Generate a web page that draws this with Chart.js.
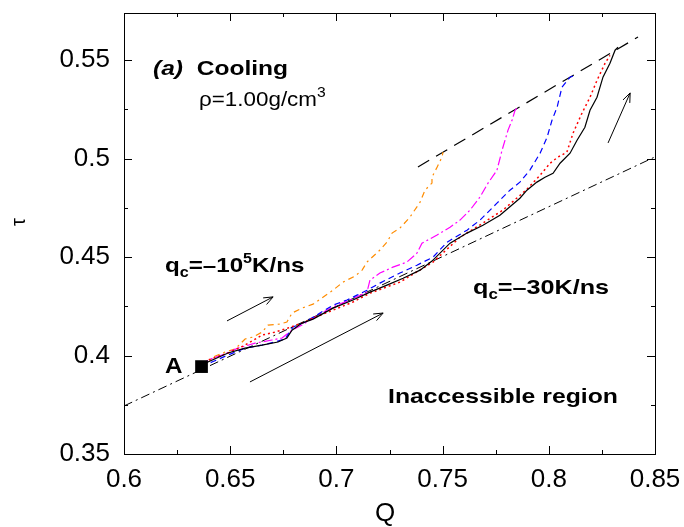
<!DOCTYPE html>
<html>
<head>
<meta charset="utf-8">
<script src="https://cdn.jsdelivr.net/npm/chart.js@4.4.1/dist/chart.umd.min.js"></script>
<style>
  html, body { margin: 0; padding: 0; background: #fff; }
</style>
</head>
<body>
<canvas id="coolingChart" width="684" height="527"></canvas>
<script>
// axis ticks
const xTicks = [0.6, 0.65, 0.7, 0.75, 0.8, 0.85];
const xTickLabels = ["0.6", "0.65", "0.7", "0.75", "0.8", "0.85"];
const xMinorTicks = [0.625, 0.675, 0.725, 0.775, 0.825];
const yTicks = [0.35, 0.4, 0.45, 0.5, 0.55];
const yTickLabels = ["0.35", "0.4", "0.45", "0.5", "0.55"];
const yMinorTicks = [0.375, 0.425, 0.475, 0.525];

// cooling curves, slowest (-30 K/ns) to fastest (-10^5 K/ns)
const blackQ = [0.6365, 0.6395, 0.6490, 0.6570, 0.6650, 0.6725, 0.6767, 0.6791, 0.6838, 0.6890, 0.6984, 0.7078, 0.7158, 0.7238, 0.7314, 0.7394, 0.7450, 0.7535, 0.7615, 0.7690, 0.7770, 0.7864, 0.7897, 0.7944, 0.7982, 0.8020, 0.8053, 0.8100, 0.8133, 0.8170, 0.8194, 0.8227, 0.8255, 0.8288, 0.8312, 0.8326];
const blackTau = [0.3944, 0.3967, 0.4013, 0.4038, 0.4053, 0.4069, 0.4089, 0.4129, 0.4165, 0.4185, 0.4241, 0.4282, 0.4322, 0.4358, 0.4393, 0.4434, 0.4480, 0.4571, 0.4622, 0.4662, 0.4713, 0.4799, 0.4840, 0.4881, 0.4906, 0.4926, 0.4977, 0.5028, 0.5094, 0.5160, 0.5246, 0.5312, 0.5414, 0.5485, 0.5551, 0.5566];

const redQ = [0.6365, 0.6395, 0.6490, 0.6570, 0.6650, 0.6711, 0.6772, 0.6838, 0.6890, 0.6984, 0.7078, 0.7158, 0.7299, 0.7455, 0.7582, 0.7690, 0.7784, 0.7855, 0.7897, 0.7959, 0.8006, 0.8043, 0.8085, 0.8114, 0.8156, 0.8194, 0.8227, 0.8265, 0.8288];
const redTau = [0.3944, 0.3977, 0.4013, 0.4053, 0.4104, 0.4119, 0.4140, 0.4165, 0.4190, 0.4231, 0.4272, 0.4317, 0.4373, 0.4475, 0.4601, 0.4673, 0.4739, 0.4805, 0.4845, 0.4916, 0.4977, 0.5008, 0.5033, 0.5129, 0.5231, 0.5312, 0.5398, 0.5485, 0.5525];

const blueQ = [0.6365, 0.6414, 0.6490, 0.6570, 0.6650, 0.6711, 0.6758, 0.6796, 0.6852, 0.6890, 0.6984, 0.7050, 0.7097, 0.7144, 0.7205, 0.7299, 0.7379, 0.7455, 0.7521, 0.7615, 0.7676, 0.7756, 0.7817, 0.7864, 0.7911, 0.7959, 0.7992, 0.8015, 0.8039, 0.8062, 0.8100, 0.8124];
const blueTau = [0.3944, 0.3967, 0.4003, 0.4038, 0.4053, 0.4069, 0.4084, 0.4145, 0.4170, 0.4195, 0.4256, 0.4282, 0.4307, 0.4332, 0.4368, 0.4419, 0.4459, 0.4500, 0.4576, 0.4637, 0.4688, 0.4774, 0.4840, 0.4881, 0.4942, 0.5028, 0.5109, 0.5195, 0.5261, 0.5363, 0.5414, 0.5424];

const magentaQ = [0.6365, 0.6395, 0.6461, 0.6537, 0.6617, 0.6697, 0.6744, 0.6791, 0.6838, 0.6890, 0.6956, 0.7003, 0.7064, 0.7144, 0.7158, 0.7205, 0.7266, 0.7332, 0.7379, 0.7403, 0.7474, 0.7535, 0.7582, 0.7629, 0.7676, 0.7714, 0.7756, 0.7780, 0.7808, 0.7827, 0.7841, 0.7850];
const magentaTau = [0.3944, 0.3977, 0.4003, 0.4038, 0.4063, 0.4079, 0.4089, 0.4129, 0.4155, 0.4190, 0.4231, 0.4256, 0.4282, 0.4322, 0.4383, 0.4419, 0.4449, 0.4475, 0.4520, 0.4571, 0.4612, 0.4652, 0.4688, 0.4739, 0.4805, 0.4876, 0.4942, 0.5043, 0.5145, 0.5195, 0.5246, 0.5256];

const orangeQ = [0.6365, 0.6395, 0.6428, 0.6476, 0.6523, 0.6570, 0.6607, 0.6650, 0.6678, 0.6734, 0.6767, 0.6791, 0.6838, 0.6890, 0.6984, 0.7031, 0.7088, 0.7121, 0.7144, 0.7205, 0.7238, 0.7262, 0.7299, 0.7346, 0.7394, 0.7417, 0.7450, 0.7450, 0.7474, 0.7497, 0.7502];
const orangeTau = [0.3944, 0.3967, 0.3997, 0.4018, 0.4033, 0.4084, 0.4094, 0.4119, 0.4155, 0.4160, 0.4170, 0.4216, 0.4241, 0.4261, 0.4332, 0.4373, 0.4404, 0.4434, 0.4475, 0.4536, 0.4576, 0.4622, 0.4647, 0.4703, 0.4779, 0.4840, 0.4876, 0.4906, 0.4957, 0.5008, 0.5033];

// bounding lines
const lowerQ = [0.6, 0.85];
const lowerTau = [0.3744, 0.5009];
const upperQ = [0.7384, 0.8420];
const upperTau = [0.4958, 0.5618];

// starting state A
const pointAQ = [0.6365];
const pointATau = [0.3944];

// arrows (tail -> head)
const arrowFromQ = [0.6485, 0.6593, 0.8279];
const arrowFromTau = [0.4176, 0.3866, 0.5080];
const arrowToQ = [0.6702, 0.7220, 0.8383];
const arrowToTau = [0.4298, 0.4216, 0.5334];

const FONT = "'Liberation Sans', Arial, Helvetica, sans-serif";

function pts(qs, taus) {
  return qs.map((q, i) => ({ x: q, y: taus[i] }));
}

function lineSet(qs, taus, color, dash, width) {
  return {
    data: pts(qs, taus),
    showLine: true,
    borderColor: color,
    borderWidth: width || 1,
    borderDash: dash,
    pointRadius: 0,
    fill: false,
    tension: 0
  };
}

// draws text pieces one after the other, slightly stretched like the original
function drawRich(ctx, x, y, parts, stretch) {
  ctx.save();
  ctx.translate(x, y);
  ctx.scale(stretch, 1);
  let cx = 0;
  parts.forEach(p => {
    ctx.font = p.font;
    ctx.fillText(p.t, cx, p.dy || 0);
    cx += ctx.measureText(p.t).width;
  });
  ctx.restore();
}

// no label overflow padding: plot box is fixed
function noPad(s) {
  s.paddingLeft = 0; s.paddingRight = 0; s.paddingTop = 0; s.paddingBottom = 0;
}

const decorPlugin = {
  id: "decor",
  afterDraw(chart) {
    const ctx = chart.ctx;
    const xs = chart.scales.x, ys = chart.scales.y;
    const a = chart.chartArea;
    ctx.save();
    ctx.strokeStyle = "#000";
    ctx.fillStyle = "#000";
    ctx.lineWidth = 1;
    ctx.setLineDash([]);

    // frame
    ctx.strokeRect(a.left + 0.5, a.top + 0.5, a.right - a.left, a.bottom - a.top);

    // inward ticks on all sides
    ctx.beginPath();
    const tickX = (v, len) => {
      const px = Math.round(xs.getPixelForValue(v)) + 0.5;
      ctx.moveTo(px, a.bottom); ctx.lineTo(px, a.bottom - len);
      ctx.moveTo(px, a.top); ctx.lineTo(px, a.top + len);
    };
    const tickY = (v, len) => {
      const py = Math.round(ys.getPixelForValue(v)) + 0.5;
      ctx.moveTo(a.left, py); ctx.lineTo(a.left + len, py);
      ctx.moveTo(a.right, py); ctx.lineTo(a.right - len, py);
    };
    xTicks.forEach(v => tickX(v, 8));
    xMinorTicks.forEach(v => tickX(v, 4));
    yTicks.forEach(v => tickY(v, 8));
    yMinorTicks.forEach(v => tickY(v, 4));
    ctx.stroke();

    // arrows
    arrowFromQ.forEach((q, i) => {
      const x0 = xs.getPixelForValue(q), y0 = ys.getPixelForValue(arrowFromTau[i]);
      const x1 = xs.getPixelForValue(arrowToQ[i]), y1 = ys.getPixelForValue(arrowToTau[i]);
      const ang = Math.atan2(y1 - y0, x1 - x0);
      const hl = 10, spread = 0.38;
      ctx.beginPath();
      ctx.moveTo(x0, y0); ctx.lineTo(x1, y1);
      ctx.moveTo(x1 - hl * Math.cos(ang - spread), y1 - hl * Math.sin(ang - spread));
      ctx.lineTo(x1, y1);
      ctx.lineTo(x1 - hl * Math.cos(ang + spread), y1 - hl * Math.sin(ang + spread));
      ctx.stroke();
    });

    // axis titles
    ctx.textBaseline = "alphabetic";
    ctx.textAlign = "center";
    ctx.font = "26px " + FONT;
    ctx.fillText("Q", 385, 521);
    ctx.save();
    ctx.translate(25, 222);
    ctx.rotate(-Math.PI / 2);
    ctx.font = "20px " + FONT;
    ctx.fillText("\u03C4", 0, 0);
    ctx.restore();

    // annotations
    ctx.textAlign = "left";
    const B = "bold 21px " + FONT;
    const BS = "bold 14px " + FONT;
    drawRich(ctx, 153, 75, [
      { t: "(a)", font: "italic bold 21px " + FONT },
      { t: "  Cooling", font: B }
    ], 1.17);
    drawRich(ctx, 199, 106, [
      { t: "\u03C1=1.00g/cm", font: "20px " + FONT },
      { t: "3", font: "14px " + FONT, dy: -9 }
    ], 1.12);
    drawRich(ctx, 165, 272, [
      { t: "q", font: B },
      { t: "c", font: BS, dy: 5 },
      { t: "=\u201310", font: B },
      { t: "5", font: BS, dy: -9 },
      { t: "K/ns", font: B }
    ], 1.15);
    drawRich(ctx, 473, 294, [
      { t: "q", font: B },
      { t: "c", font: BS, dy: 5 },
      { t: "=\u201330K/ns", font: B }
    ], 1.2);
    drawRich(ctx, 388, 403, [{ t: "Inaccessible region", font: B }], 1.18);
    drawRich(ctx, 165, 373, [{ t: "A", font: "bold 22px " + FONT }], 1.1);
    ctx.restore();
  }
};

const ctx = document.getElementById("coolingChart").getContext("2d");
const coolingChart = new Chart(ctx, {
  type: "scatter",
  data: {
    datasets: [
      {
        data: pts(pointAQ, pointATau),
        pointStyle: "rect",
        pointRadius: 9,
        backgroundColor: "#000",
        borderColor: "#000",
        borderWidth: 0
      },
      lineSet(blackQ, blackTau, "#000000", [], 1.2),
      lineSet(redQ, redTau, "#ff0000", [2, 3], 1.5),
      lineSet(blueQ, blueTau, "#0000ff", [6, 4], 1.2),
      lineSet(magentaQ, magentaTau, "#ff00ff", [9, 3, 2, 3], 1.2),
      lineSet(orangeQ, orangeTau, "#ff8c00", [6, 4, 2, 4], 1.2),
      lineSet(upperQ, upperTau, "#000000", [13, 8], 1.2),
      lineSet(lowerQ, lowerTau, "#000000", [9, 4, 2, 4], 1)
    ]
  },
  options: {
    responsive: false,
    devicePixelRatio: 1,
    animation: false,
    layout: { padding: { left: 0, top: 13, right: 29, bottom: 0 } },
    plugins: {
      legend: { display: false },
      tooltip: { enabled: false }
    },
    scales: {
      x: {
        type: "linear",
        min: 0.6,
        max: 0.85,
        grid: { display: false, drawTicks: false },
        border: { display: false },
        afterBuildTicks: s => { s.ticks = xTicks.map(v => ({ value: v })); },
        afterFit: s => { s.height = 73; noPad(s); },
        ticks: {
          autoSkip: false,
          maxRotation: 0,
          padding: 10,
          color: "#000",
          font: { family: FONT, size: 26 },
          callback: (v, i) => xTickLabels[i]
        }
      },
      y: {
        type: "linear",
        min: 0.35,
        max: 0.574,
        grid: { display: false, drawTicks: false },
        border: { display: false },
        afterBuildTicks: s => { s.ticks = yTicks.map(v => ({ value: v })); },
        afterFit: s => { s.width = 124; noPad(s); },
        ticks: {
          autoSkip: false,
          padding: 14,
          color: "#000",
          font: { family: FONT, size: 26 },
          callback: (v, i) => yTickLabels[i]
        }
      }
    }
  },
  plugins: [decorPlugin]
});
</script>
</body>
</html>
